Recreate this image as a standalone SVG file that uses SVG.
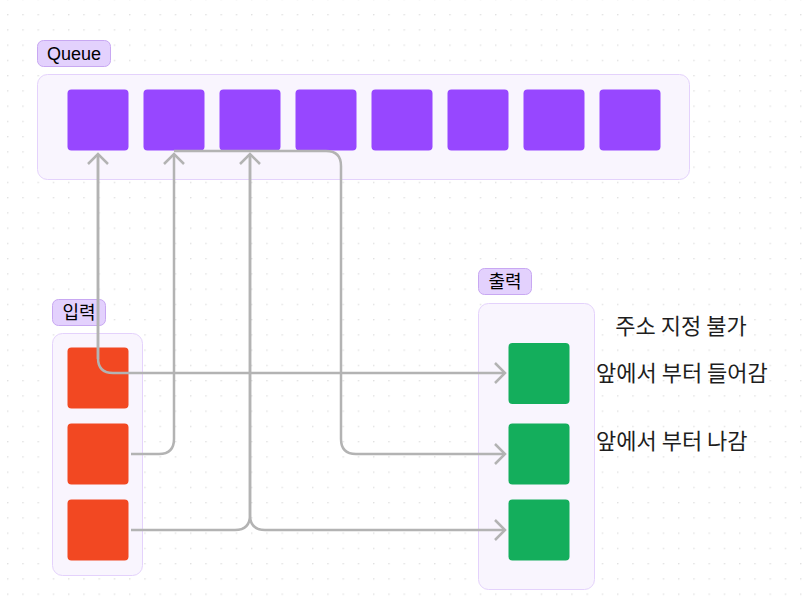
<svg xmlns="http://www.w3.org/2000/svg" width="812" height="607" viewBox="0 0 812 607">
<style>
.sec{fill:#f9f5fe;stroke:#e4d2fc;stroke-width:1}
.lbl{fill:#e3d1fd;stroke:#c8a8f2;stroke-width:1}
.lt{font-family:"Liberation Sans","Noto Sans CJK KR",sans-serif;font-size:18px;fill:#000;text-anchor:middle}
.q{fill:#9747ff}
.in{fill:#f24822}
.out{fill:#14ae5c}
.c{fill:none;stroke:#b3b3b3;stroke-width:2.5}
.t{font-family:"Noto Sans CJK KR",sans-serif;font-size:22px;fill:#1e1e1e}
</style>
<defs>
<pattern id="dots" x="7" y="14" width="15.25" height="15.25" patternUnits="userSpaceOnUse">
<circle cx="0.75" cy="0.75" r="0.75" fill="#d9d9d9"/>
</pattern>
<marker id="ah" viewBox="-12 -12 14 24" markerWidth="14" markerHeight="24" refX="0" refY="0" orient="auto" markerUnits="userSpaceOnUse">
<path d="M-10,-10 L0,0 L-10,10" fill="none" stroke="#b3b3b3" stroke-width="2.5"/>
</marker>
</defs>
<rect width="812" height="607" fill="#fff"/>
<rect width="812" height="607" fill="url(#dots)"/>

<g id="queue-section">
<rect class="sec" x="37.5" y="74.5" width="652" height="105" rx="10"/>
<rect class="lbl" x="37.5" y="40.5" width="73" height="26" rx="6"/>
<text class="lt" x="74" y="60">Queue</text>
</g>
<g id="input-section">
<rect class="sec" x="52.5" y="333.5" width="90" height="242" rx="10"/>
<rect class="lbl" x="52.5" y="299.5" width="53" height="26" rx="6"/>
<text class="lt" x="79" y="319">입력</text>
</g>
<g id="output-section">
<rect class="sec" x="478.5" y="303.5" width="116" height="286" rx="10"/>
<rect class="lbl" x="478.5" y="268.5" width="53" height="26" rx="6"/>
<text class="lt" x="505" y="288">출력</text>
</g>

<g id="q0"><rect class="q" x="67.5" y="89.5" width="61" height="61" rx="4"/></g>
<g id="q1"><rect class="q" x="143.5" y="89.5" width="61" height="61" rx="4"/></g>
<g id="q2"><rect class="q" x="219.5" y="89.5" width="61" height="61" rx="4"/></g>
<g id="q3"><rect class="q" x="295.5" y="89.5" width="61" height="61" rx="4"/></g>
<g id="q4"><rect class="q" x="371.5" y="89.5" width="61" height="61" rx="4"/></g>
<g id="q5"><rect class="q" x="447.5" y="89.5" width="61" height="61" rx="4"/></g>
<g id="q6"><rect class="q" x="523.5" y="89.5" width="61" height="61" rx="4"/></g>
<g id="q7"><rect class="q" x="599.5" y="89.5" width="61" height="61" rx="4"/></g>

<g id="in0"><rect class="in" x="67.5" y="347.5" width="61" height="61" rx="4"/></g>
<g id="in1"><rect class="in" x="67.5" y="423.5" width="61" height="61" rx="4"/></g>
<g id="in2"><rect class="in" x="67.5" y="499.5" width="61" height="61" rx="4"/></g>

<g id="out0"><rect class="out" x="508.5" y="343" width="61" height="61" rx="4"/></g>
<g id="out1"><rect class="out" x="508.5" y="423.5" width="61" height="61" rx="4"/></g>
<g id="out2"><rect class="out" x="508.5" y="499.5" width="61" height="61" rx="4"/></g>

<g id="connectors">
<path class="c" d="M98,359 V154" marker-end="url(#ah)"/>
<path class="c" d="M98,154 V358 Q98,373 113,373 H505" marker-end="url(#ah)"/>
<path class="c" d="M131,454 H159 Q174,454 174,439 V154" marker-end="url(#ah)"/>
<path class="c" d="M174,151 H326 Q341,151 341,166 V439 Q341,454 356,454 H505" marker-end="url(#ah)"/>
<path class="c" d="M131,530 H235 Q250,530 250,515 V154" marker-end="url(#ah)"/>
<path class="c" d="M250,154 V515 Q250,530 265,530 H505" marker-end="url(#ah)"/>
</g>

<g id="notes">
<text class="t" x="681" y="334" text-anchor="middle">주소 지정 불가</text>
<text class="t" x="596" y="381">앞에서 부터 들어감</text>
<text class="t" x="596" y="449">앞에서 부터 나감</text>
</g>
</svg>
